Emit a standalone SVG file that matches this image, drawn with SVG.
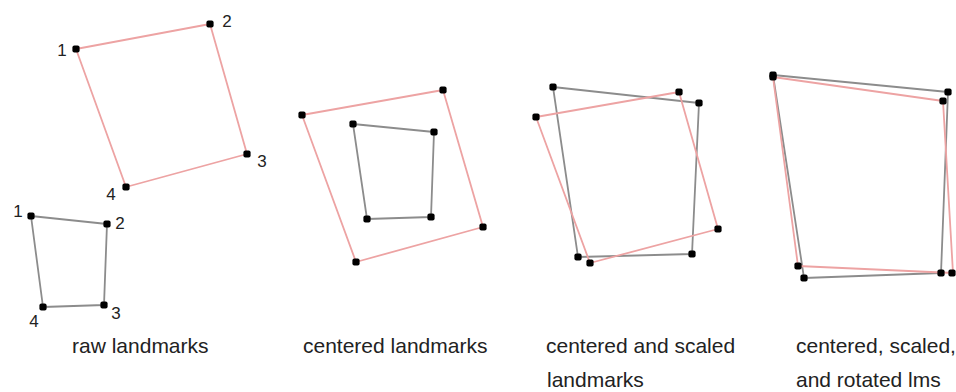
<svg xmlns="http://www.w3.org/2000/svg" width="956" height="392" viewBox="0 0 956 392">
<style>
.red{fill:none;stroke:#eda3a3;stroke-width:1.8;stroke-linejoin:round}
.gray{fill:none;stroke:#8c8c8c;stroke-width:1.8;stroke-linejoin:round}
.num{font-family:"Liberation Sans",Arial,sans-serif;font-size:17px;fill:#222;text-anchor:middle}
.cap{font-family:"Liberation Sans",Arial,sans-serif;font-size:21px;fill:#222}
.dot{fill:#000}
</style>
<defs>
<rect id="d" x="-3.6" y="-3.6" width="7.2" height="7.2" rx="2" class="dot"/>
</defs>
<rect width="956" height="392" fill="#fff"/>
<g id="connectors">
<polygon class="red" points="76,49 210,24 247,154 126,187"/>
<polygon class="gray" points="31,216 107,224 104,305 43,307"/>
<polygon class="red" points="302,115 443,90 483,227 356,262"/>
<polygon class="gray" points="353,124 434,132 431,217 367,219"/>
<polygon class="gray" points="553,87 699,103 692,254 578,257"/>
<polygon class="red" points="536,117 679,92 718,229 590,263"/>
<polygon class="gray" points="773,75 948,92 941,273 804,278"/>
<polygon class="red" points="773,77 943,101 953,273 798,266"/>
</g>
<g id="raw-target">
<use href="#d" x="76" y="49"/><use href="#d" x="210" y="24"/><use href="#d" x="247" y="154"/><use href="#d" x="126" y="187"/>
<text class="num" x="62" y="56">1</text>
<text class="num" x="227" y="27">2</text>
<text class="num" x="262" y="167">3</text>
<text class="num" x="111" y="200">4</text>
</g>
<g id="raw-source">
<use href="#d" x="31" y="216"/><use href="#d" x="107" y="224"/><use href="#d" x="104" y="305"/><use href="#d" x="43" y="307"/>
<text class="num" x="18" y="217">1</text>
<text class="num" x="120" y="229">2</text>
<text class="num" x="116" y="319">3</text>
<text class="num" x="34" y="327">4</text>
<text class="cap" x="72" y="353">raw landmarks</text>
</g>
<g id="centered">
<use href="#d" x="302" y="115"/><use href="#d" x="443" y="90"/><use href="#d" x="483" y="227"/><use href="#d" x="356" y="262"/>
<use href="#d" x="353" y="124"/><use href="#d" x="434" y="132"/><use href="#d" x="431" y="217"/><use href="#d" x="367" y="219"/>
<text class="cap" x="303" y="353">centered landmarks</text>
</g>
<g id="scaled">
<use href="#d" x="553" y="87"/><use href="#d" x="699" y="103"/><use href="#d" x="692" y="254"/><use href="#d" x="578" y="257"/>
<use href="#d" x="536" y="117"/><use href="#d" x="679" y="92"/><use href="#d" x="718" y="229"/><use href="#d" x="590" y="263"/>
<text class="cap" x="546" y="353">centered and scaled</text>
<text class="cap" x="547" y="387">landmarks</text>
</g>
<g id="rotated">
<use href="#d" x="773" y="75"/><use href="#d" x="948" y="92"/><use href="#d" x="941" y="273"/><use href="#d" x="804" y="278"/>
<use href="#d" x="773" y="77"/><use href="#d" x="943" y="101"/><use href="#d" x="952" y="273"/><use href="#d" x="798" y="266"/>
<text class="cap" x="796" y="353">centered, scaled,</text>
<text class="cap" x="796" y="387">and rotated lms</text>
</g>
</svg>
